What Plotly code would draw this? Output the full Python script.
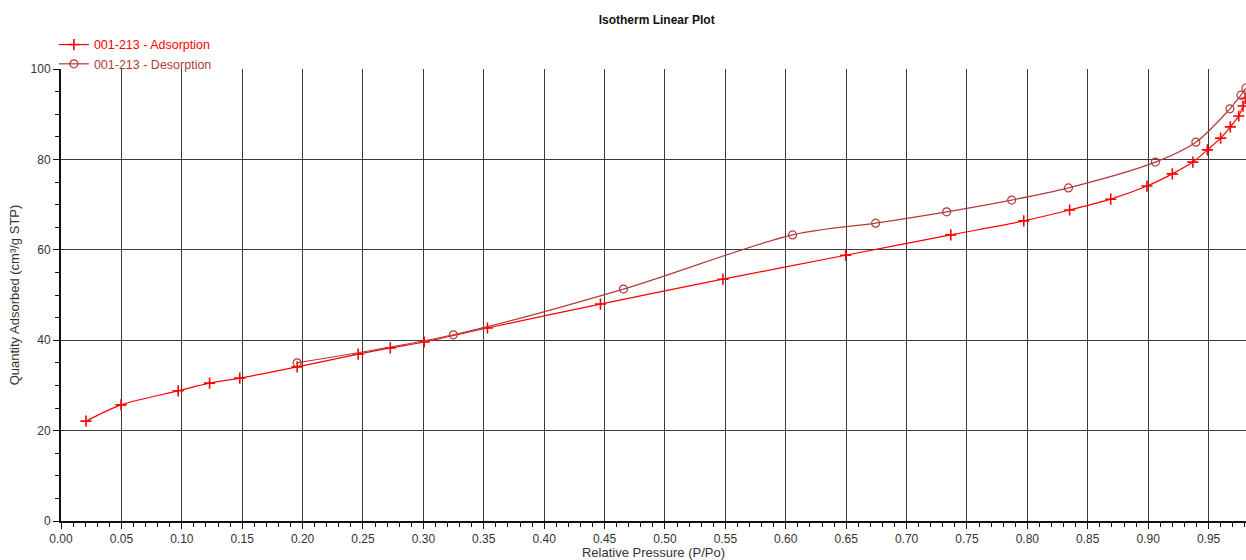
import plotly.graph_objects as go

# Adsorption branch: relative pressure (P/Po) and quantity adsorbed (cm3/g STP)
ads_p = [0.0207, 0.0497, 0.097, 0.123, 0.148, 0.1955, 0.246, 0.2726, 0.3007,
         0.353, 0.4466, 0.548, 0.6496, 0.7366, 0.797, 0.835, 0.869, 0.899,
         0.920, 0.937, 0.949, 0.960, 0.968, 0.975, 0.9785, 0.981]
ads_q = [22.1, 25.7, 28.8, 30.5, 31.6, 34.1, 36.9, 38.3, 39.6,
         42.7, 48.0, 53.5, 58.8, 63.3, 66.4, 68.8, 71.2, 74.1,
         76.8, 79.4, 82.1, 84.7, 87.2, 89.6, 91.8, 93.5]

# Desorption branch, in measured order (decreasing pressure)
des_p = [0.981, 0.9768, 0.9677, 0.9395, 0.906, 0.834, 0.787, 0.7332,
         0.6744, 0.6056, 0.4656, 0.3248, 0.1955]
des_q = [95.8, 94.2, 91.2, 83.8, 79.4, 73.7, 71.0, 68.4,
         65.9, 63.3, 51.3, 41.2, 35.0]

x_ticks = [round(0.05 * i, 2) for i in range(20)]
x_tick_text = [f"{v:.2f}" for v in x_ticks]
y_ticks = [0, 20, 40, 60, 80, 100]

ADS_COLOR = "#ff0000"
DES_COLOR = "#b03c3c"
FONT = "Liberation Sans, Arial, sans-serif"

fig = go.Figure()
fig.add_trace(go.Scatter(
    x=ads_p, y=ads_q,
    name=f"<span style='color:{ADS_COLOR}'>001-213 - Adsorption</span>",
    mode="lines+markers",
    line=dict(color=ADS_COLOR, width=1.2, shape="spline", smoothing=0.8),
    marker=dict(symbol="cross-thin", size=8, color=ADS_COLOR,
                line=dict(color=ADS_COLOR, width=1.6)),
))
fig.add_trace(go.Scatter(
    x=des_p, y=des_q,
    name=f"<span style='color:{DES_COLOR}'>001-213 - Desorption</span>",
    mode="lines+markers",
    line=dict(color=DES_COLOR, width=1.2, shape="spline", smoothing=0.9),
    marker=dict(symbol="circle-open", size=8, color=DES_COLOR,
                line=dict(color=DES_COLOR, width=1.2)),
))

fig.update_layout(
    width=1246, height=560,
    margin=dict(l=61, r=0, t=69, b=39),
    paper_bgcolor="white", plot_bgcolor="white",
    font=dict(family=FONT, size=12, color="#222"),
    title=dict(text="<b>Isotherm Linear Plot</b>", x=0.527, xanchor="center",
               y=0.965, yanchor="middle", font=dict(size=12, color="#111")),
    showlegend=True,
    legend=dict(x=-0.006, xanchor="left", y=0.978, yanchor="bottom",
                bgcolor="rgba(0,0,0,0)", tracegroupgap=0,
                font=dict(size=12.5, family=FONT), itemwidth=30,
                traceorder="normal"),
)
fig.update_xaxes(
    range=[0, 0.981], tickvals=x_ticks, ticktext=x_tick_text,
    ticks="outside", ticklen=6, tickcolor="#111", tickfont=dict(size=12, color="#333"),
    showgrid=True, gridcolor="#3c3c3c", gridwidth=1.3,
    showline=True, linecolor="#111", linewidth=2, zeroline=False,
    minor=dict(dtick=0.01, tick0=0, ticks="outside", ticklen=4, tickcolor="#111",
               showgrid=False),
    title=dict(text="Relative Pressure (P/Po)", font=dict(size=13, color="#333"),
               standoff=4),
)
fig.update_yaxes(
    range=[0, 100], tickvals=y_ticks,
    ticks="outside", ticklen=6, tickcolor="#111", tickfont=dict(size=12, color="#333"),
    showgrid=True, gridcolor="#3c3c3c", gridwidth=1.3,
    showline=True, linecolor="#111", linewidth=2, zeroline=False,
    minor=dict(dtick=5, tick0=0, ticks="outside", ticklen=4, tickcolor="#111",
               showgrid=False),
    title=dict(text="Quantity Adsorbed (cm³/g STP)", font=dict(size=13, color="#333"),
               standoff=8),
)

fig.write_html("out.html")
